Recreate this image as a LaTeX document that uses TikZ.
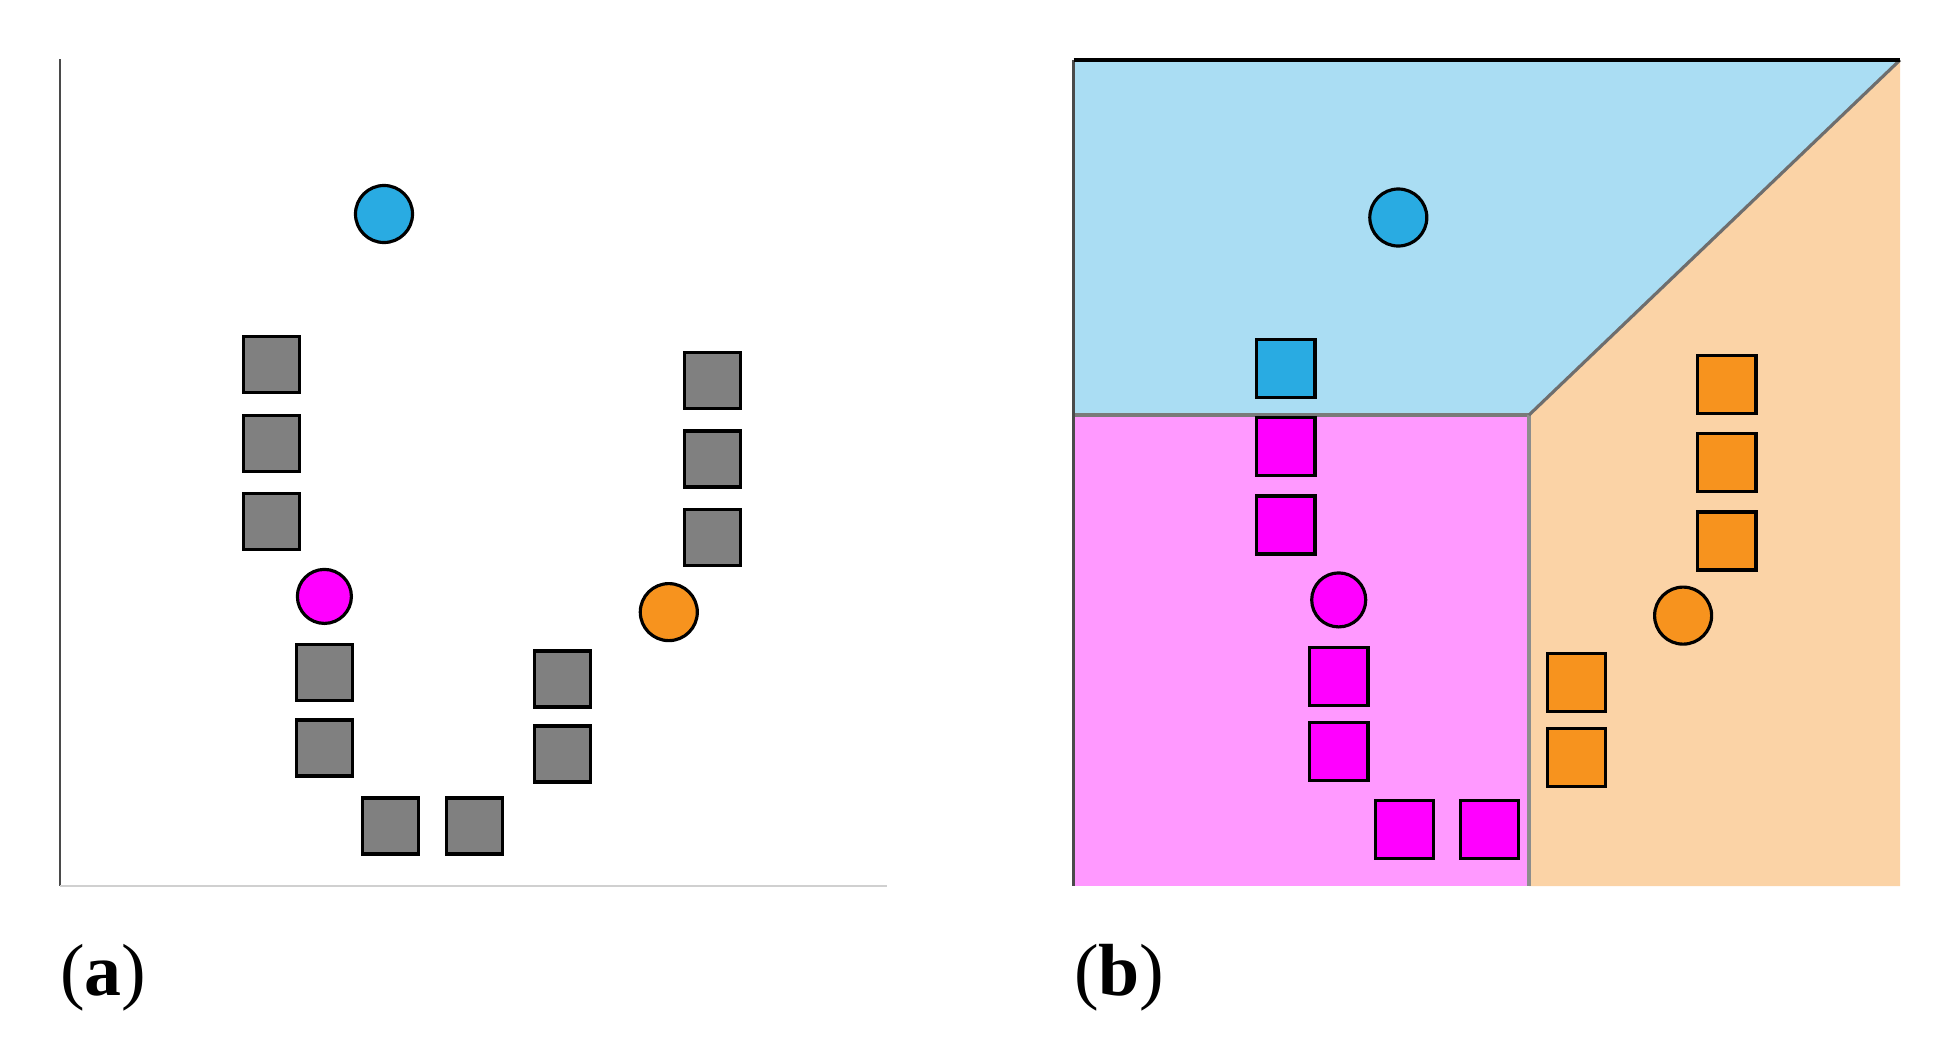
\documentclass[tikz,border=0pt]{standalone}
\usepackage{fontspec}
\newfontfamily\capfont{Liberation Serif}
\usepackage{xcolor}
\definecolor{ptgray}{HTML}{808080}
\definecolor{ptblue}{HTML}{29ABE2}
\definecolor{ptmagenta}{HTML}{FF00FF}
\definecolor{ptorange}{HTML}{F7931E}
\definecolor{zoneblue}{HTML}{AADDF3}
\definecolor{zonemagenta}{HTML}{FF99FF}
\definecolor{zoneorange}{HTML}{FBD3A6}
\definecolor{bk70}{HTML}{4A4A4A}
\definecolor{bk50}{HTML}{7A7A7A}
\definecolor{bk20}{HTML}{D0D0D0}
\tikzset{
  sample/.style={
    rectangle, draw=black, fill=#1, line width=0.9pt,
    minimum size=0.56cm, inner sep=0pt
  },
  sample/.default=ptgray,
  centroid/.style={
    circle, draw=black, fill=#1, line width=0.9pt,
    minimum size=0.57cm, inner sep=0pt
  },
  centroid/.default=ptgray,
  boundary/.style={draw=bk50, line width=0.9pt},
  panellabel/.style={font=\capfont\fontsize{21}{24}\selectfont,
    anchor=base west, inner sep=0pt},
}
% samples: x/y/cluster
\def\samplelist{271.6/364.8/ptblue, 271.6/443.2/ptmagenta, 271.6/521.5/ptmagenta,
  324.6/672.6/ptmagenta, 324.6/748/ptmagenta, 390.3/826/ptmagenta, 474.8/826/ptmagenta,
  562.5/679/ptorange, 562.5/754/ptorange, 712.6/380.8/ptorange,
  712.6/459/ptorange, 712.6/537.5/ptorange}
\begin{document}
\begin{tikzpicture}[x=0.01cm, y=-0.01cm]
    \useasboundingbox (0,0) rectangle (1946,1048);
    % (a) raw data
    \draw[bk70, line width=0.6pt] (59.6,59) -- (59.6,886);
    \draw[bk20, line width=0.6pt] (59.6,886) -- (887,886);
    \foreach \x/\y/\c [count=\i] in \samplelist
        \node[sample] (a-s\i) at (\x,\y) {};
    \node[centroid=ptblue] (a-c1) at (384,214) {};
    \node[centroid=ptmagenta, minimum size=0.54cm] (a-c2) at (324.4,596.4) {};
    \node[centroid=ptorange] (a-c3) at (668.8,612.1) {};
    \node[panellabel] (lab-a) at (59.6,995) {(\textbf{a})};
    % (b) clustered data
    \fill[zoneblue] (1073.6,60) -- (1900,60) -- (1529,415) -- (1073.6,415) -- cycle;
    \fill[zonemagenta] (1073.6,415) rectangle (1529,886);
    \fill[zoneorange] (1529,415) -- (1900,60) -- (1900,886) -- (1529,886) -- cycle;
    \draw[boundary] (1073.6,415) -- (1529,415);
    \draw[boundary, draw=ptgray!90, line width=1.2pt] (1529,415) -- (1529,886);
    \draw[boundary, draw=bk70!80] (1529,415) -- (1900,60);
    \draw[bk70, line width=0.7pt] (1073.6,60) -- (1073.6,886);
    \draw[black, line width=1.1pt] (1073.6,60) -- (1900,60);
    \begin{scope}[shift={(1014.3,3.5)}]
        \foreach \x/\y/\c [count=\i] in \samplelist
            \node[sample=\c, minimum size=0.58cm] (b-s\i) at (\x,\y) {};
        \node[centroid=ptblue] (b-c1) at (384,214) {};
        \node[centroid=ptmagenta, minimum size=0.54cm] (b-c2) at (324.4,596.4) {};
        \node[centroid=ptorange] (b-c3) at (668.8,612.1) {};
    \end{scope}
    \node[panellabel] (lab-b) at (1073.6,995) {(\textbf{b})};
\end{tikzpicture}
\end{document}
